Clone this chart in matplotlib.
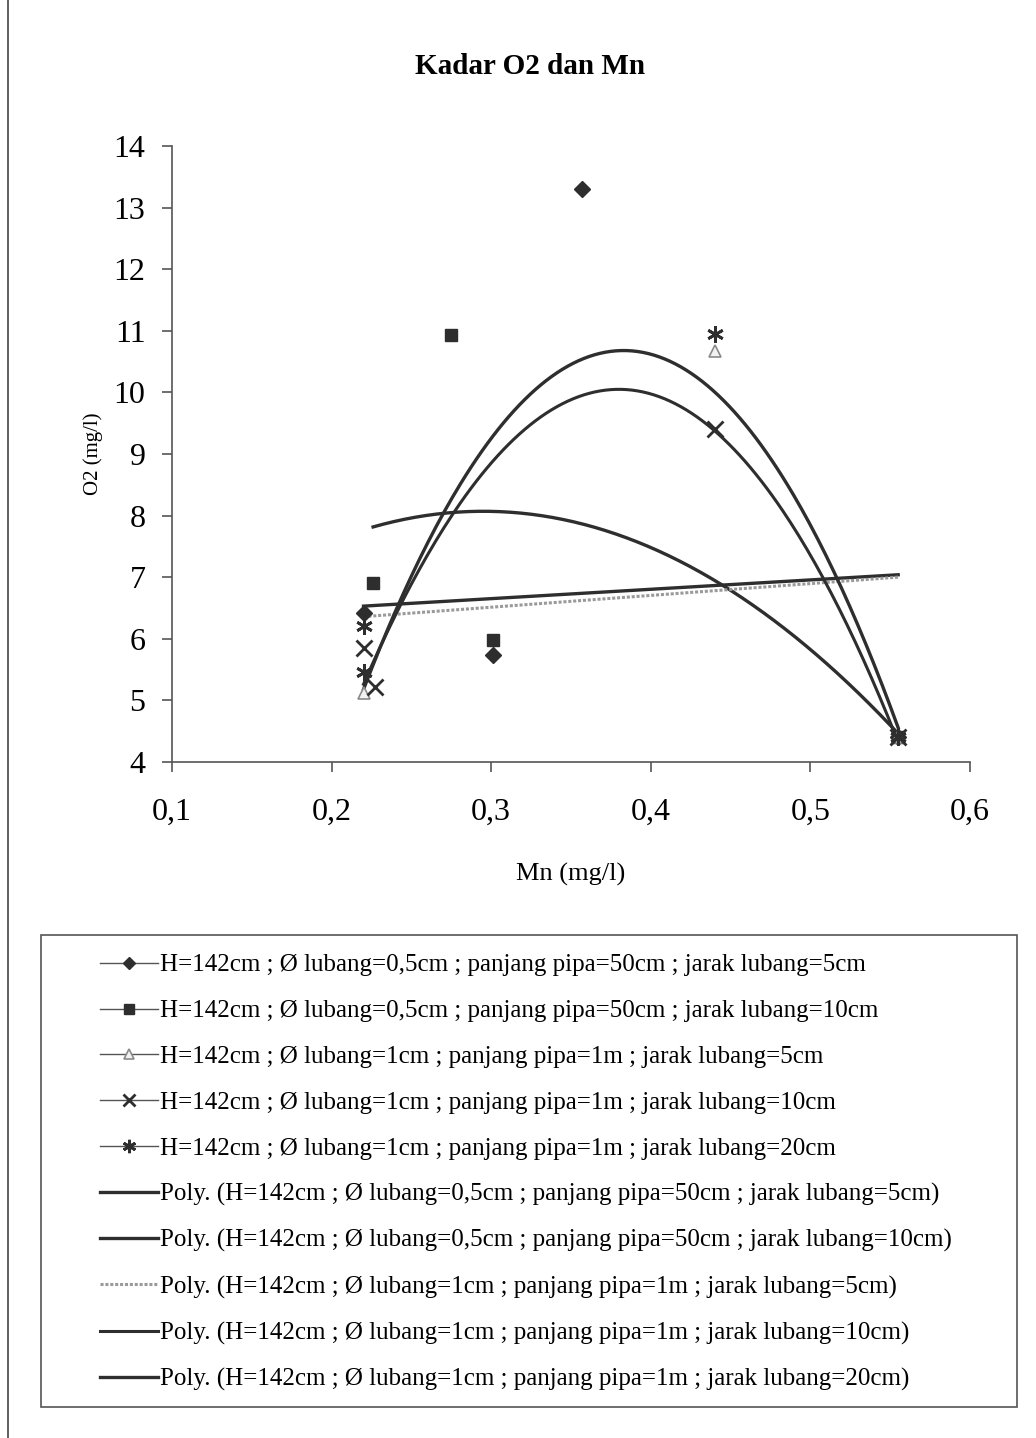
import matplotlib.pyplot as plt
import numpy as np
from matplotlib.lines import Line2D
from matplotlib.patches import Rectangle
from matplotlib.ticker import FuncFormatter, MultipleLocator

plt.rcParams['font.family'] = ['Liberation Serif', 'DejaVu Serif']

# pengukuran Mn (mg/l) dan O2 (mg/l) tiap variasi
mn_d05_j5 = [0.220, 0.301, 0.357, 0.555]
o2_d05_j5 = [6.42, 5.74, 13.30, 4.40]

mn_d05_j10 = [0.226, 0.275, 0.301, 0.555]
o2_d05_j10 = [6.90, 10.93, 5.98, 4.40]

mn_d1_j5 = [0.220, 0.440, 0.555]
o2_d1_j5 = [5.12, 10.68, 4.40]

mn_d1_j10 = [0.220, 0.227, 0.440, 0.555]
o2_d1_j10 = [5.85, 5.22, 9.40, 4.40]

mn_d1_j20 = [0.220, 0.220, 0.440, 0.555]
o2_d1_j20 = [6.20, 5.46, 10.94, 4.40]

# koefisien trendline polinomial orde 2 (a*x^2 + b*x + c)
poly_d05_j5 = [0.0, 1.52, 6.196]
poly_d05_j10 = [-53.4, 31.506, 3.423]
poly_d1_j5 = [0.0, 1.916, 5.938]
poly_d1_j10 = [-187.0, 142.12, -16.953]
poly_d1_j20 = [-207.0, 158.562, -19.685]

labels = [
    "H=142cm ; Ø lubang=0,5cm ; panjang pipa=50cm ; jarak lubang=5cm",
    "H=142cm ; Ø lubang=0,5cm ; panjang pipa=50cm ; jarak lubang=10cm",
    "H=142cm ; Ø lubang=1cm ; panjang pipa=1m ; jarak lubang=5cm",
    "H=142cm ; Ø lubang=1cm ; panjang pipa=1m ; jarak lubang=10cm",
    "H=142cm ; Ø lubang=1cm ; panjang pipa=1m ; jarak lubang=20cm",
]

dark = '#2e2e2e'
series = [
    (mn_d05_j5, o2_d05_j5, poly_d05_j5, dict(marker='D', ms=8, mfc=dark, mec=dark)),
    (mn_d05_j10, o2_d05_j10, poly_d05_j10, dict(marker='s', ms=9, mfc=dark, mec=dark)),
    (mn_d1_j5, o2_d1_j5, poly_d1_j5, dict(marker='^', ms=9, mfc='#f2f2f2', mec='#8a8a8a', mew=1.2)),
    (mn_d1_j10, o2_d1_j10, poly_d1_j10, dict(marker='x', ms=11, mec=dark, mew=2)),
    (mn_d1_j20, o2_d1_j20, poly_d1_j20, dict(marker=(6, 2, 0), ms=12, mec=dark, mew=2)),
]
trend_styles = [
    dict(color=dark, lw=2.4),
    dict(color=dark, lw=2.4),
    dict(color='#9a9a9a', lw=2.2, ls=(0, (1, 0.6))),
    dict(color=dark, lw=2.2),
    dict(color=dark, lw=2.4),
]

fig = plt.figure(figsize=(10.36, 14.38), dpi=100)
ax = fig.add_axes([172 / 1036, 1 - 762 / 1438, 798 / 1036, 616 / 1438])

for (x, y, coef, mk), st in zip(series, trend_styles):
    xs = np.linspace(min(x), max(x), 200)
    ax.plot(xs, np.polyval(coef, xs), zorder=2, **st)
    ax.plot(x, y, ls='none', zorder=3, **mk)

ax.set_xlim(0.1, 0.6)
ax.set_ylim(4, 14)
ax.xaxis.set_major_locator(MultipleLocator(0.1))
ax.yaxis.set_major_locator(MultipleLocator(1))
ax.xaxis.set_major_formatter(FuncFormatter(lambda v, p: f"{v:.1f}".replace('.', ',')))
ax.yaxis.set_major_formatter(FuncFormatter(lambda v, p: f"{v:.0f}"))
for s in ['top', 'right']:
    ax.spines[s].set_visible(False)
for s in ['left', 'bottom']:
    ax.spines[s].set_color('#555555')
    ax.spines[s].set_linewidth(1.2)
ax.tick_params(axis='both', direction='out', length=7, width=1.2, color='#555555',
               labelsize=23)
ax.tick_params(axis='x', pad=19)
ax.tick_params(axis='y', pad=12)

ax.set_xlabel("Mn (mg/l)", fontsize=19, labelpad=26)
ax.set_ylabel("O2 (mg/l)", fontsize=15, labelpad=8)
fig.text(530 / 1036, 1 - 66 / 1438, "Kadar O2 dan Mn", fontsize=21, fontweight='bold',
         ha='center', va='center')

# legenda
handles = []
for x, y, coef, mk in series:
    handles.append(Line2D([], [], color='#555555', lw=1, **mk))
for st in trend_styles:
    handles.append(Line2D([], [], **st))
leg_labels = labels + [f"Poly. ({t})" for t in labels]
fig.legend(handles, leg_labels, loc='upper left', bbox_to_anchor=(100 / 1036, 1 - 954 / 1438),
           frameon=False, fontsize=18, handlelength=2.3, handletextpad=0.1,
           labelspacing=0.93, borderpad=0, borderaxespad=0, markerscale=0.8)
fig.patches.append(Rectangle((41 / 1036, 1 - 1407 / 1438), 976 / 1036, 472 / 1438,
                             transform=fig.transFigure, fill=False, ec='#555555', lw=1.2))
fig.lines.append(Line2D([8 / 1036, 8 / 1036], [0, 1], transform=fig.transFigure,
                        color='#444444', lw=1.2))

fig.savefig('out.png', dpi=100)
